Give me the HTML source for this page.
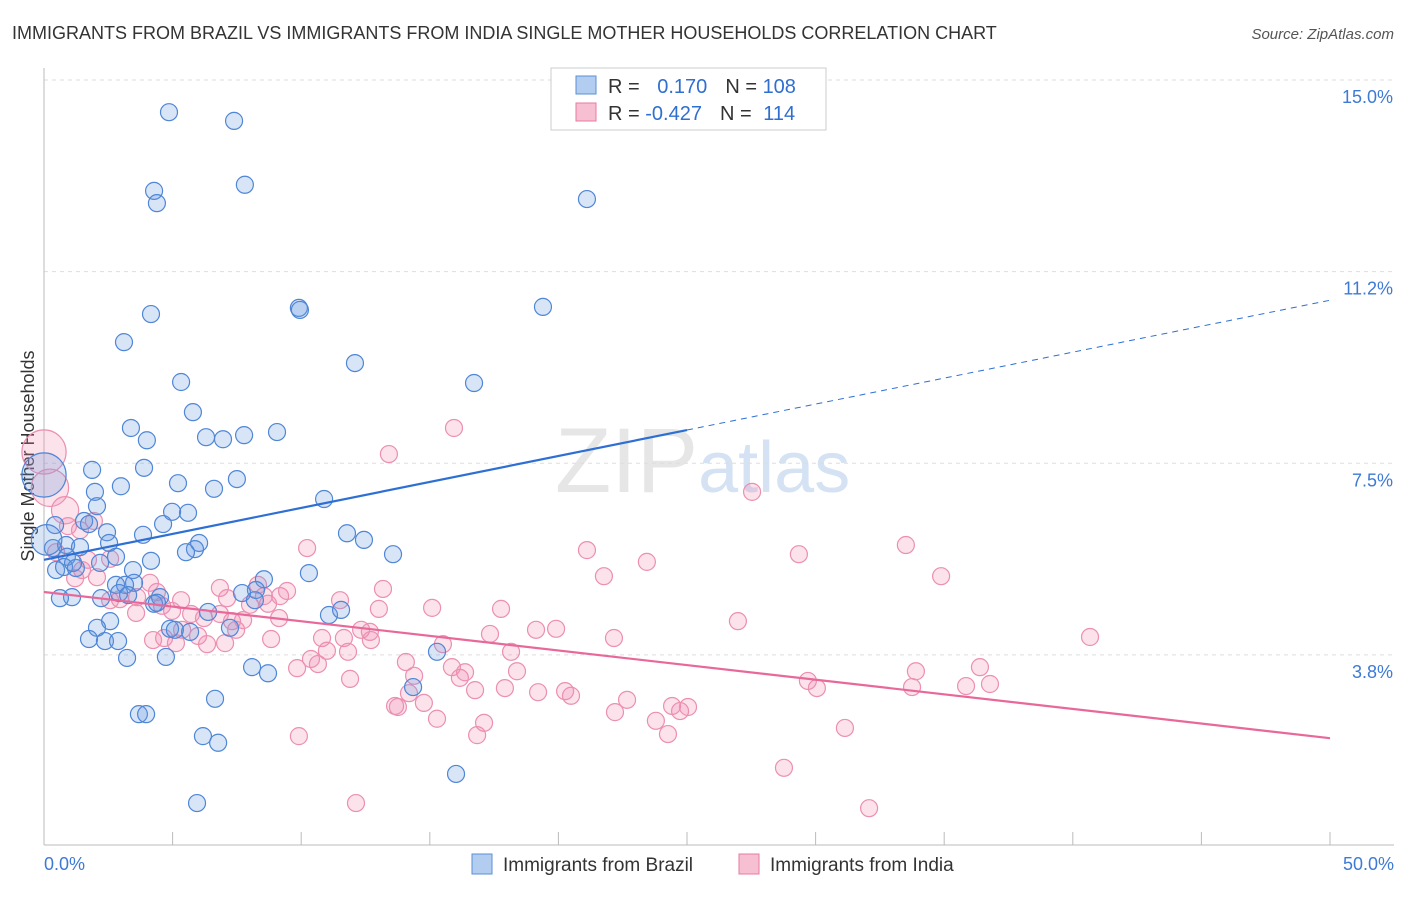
<!DOCTYPE html>
<html><head><meta charset="utf-8">
<style>
body{margin:0;background:#fff;font-family:"Liberation Sans",sans-serif;}
svg text{font-family:"Liberation Sans",sans-serif;}
</style></head>
<body>
<svg id="chart" width="1406" height="892" xmlns="http://www.w3.org/2000/svg">
<text x="12" y="39" font-size="18" fill="#333">IMMIGRANTS FROM BRAZIL VS IMMIGRANTS FROM INDIA SINGLE MOTHER HOUSEHOLDS CORRELATION CHART</text>
<text x="1394" y="39" font-size="15" fill="#555" text-anchor="end" font-style="italic">Source: ZipAtlas.com</text>
<text x="555" y="492" font-size="92" fill="#e6e6e6" font-family="Liberation Serif">ZIP<tspan fill="#d4e2f4" font-family="Liberation Sans" font-size="72">atlas</tspan></text>
<text transform="translate(34,456) rotate(-90)" font-size="18" fill="#333" text-anchor="middle">Single Mother Households</text>
<g id="grid"></g><g id="axes"></g><g id="pts"></g><g id="trends"></g>
<g>
<rect x="551" y="68" width="275" height="62" fill="#fff" stroke="#ccc"/>
<rect x="576" y="76" width="20" height="18" fill="#b3cdf0" stroke="#5b8fd6"/>
<rect x="576" y="103" width="20" height="18" fill="#f7c0d2" stroke="#e87aa0"/>
<text x="608" y="93" font-size="20" fill="#333">R = <tspan fill="#2f6fd0" dx="12">0.170</tspan><tspan dx="18">N = </tspan><tspan fill="#2f6fd0">108</tspan></text>
<text x="608" y="120" font-size="20" fill="#333">R = <tspan fill="#2f6fd0">-0.427</tspan><tspan dx="18">N = </tspan><tspan fill="#2f6fd0" dx="6">114</tspan></text>
</g>
<g>
<rect x="472" y="854" width="20" height="20" fill="#b3cdf0" stroke="#5b8fd6"/>
<text x="503" y="871" font-size="19" fill="#333">Immigrants from Brazil</text>
<rect x="739" y="854" width="20" height="20" fill="#f7c0d2" stroke="#e87aa0"/>
<text x="770" y="871" font-size="19" fill="#333">Immigrants from India</text>
</g>
</svg>
<script>
const yTicks=[3.75,7.5,11.25,15];
const yTickLabels=["3.8%","7.5%","11.2%","15.0%"];
const xTicks=[0,5,10,15,20,25,30,35,40,45,50];
const xEndLabels=["0.0%","50.0%"];
const brazilX=[4.86,7.39,4.28,4.39,7.81,21.11,9.91,9.95,19.40,4.16,3.11,12.09,5.33,16.72,5.79,3.38,4.00,6.30,6.96,7.78,9.06,1.87,3.89,2.99,5.21,7.50,6.61,1.98,2.06,4.98,5.60,10.89,1.56,1.75,4.63,2.45,3.85,11.78,12.44,0.43,0.35,0.86,1.40,2.53,6.03,5.87,5.52,13.57,0.89,2.18,2.80,4.16,0.47,0.78,1.24,1.13,10.30,3.46,3.50,2.80,3.15,1.09,2.22,0.62,2.92,3.27,4.28,4.51,4.39,6.38,8.55,8.24,7.70,8.20,11.08,11.55,2.57,2.06,4.90,5.09,5.68,7.23,1.75,2.37,2.88,3.23,4.74,15.28,8.09,8.71,14.35,6.65,3.69,3.97,6.18,6.77,16.02,5.95,0,0.1];
const brazilY=[14.37,14.20,12.83,12.59,12.95,12.67,10.54,10.50,10.56,10.42,9.87,9.46,9.09,9.07,8.50,8.19,7.95,8.01,7.97,8.05,8.11,7.37,7.41,7.05,7.11,7.19,7.00,6.94,6.66,6.55,6.53,6.80,6.37,6.31,6.31,6.15,6.10,6.13,6.00,6.29,5.84,5.90,5.86,5.94,5.94,5.82,5.76,5.72,5.67,5.55,5.67,5.59,5.41,5.47,5.45,5.55,5.35,5.41,5.16,5.12,5.12,4.88,4.86,4.86,4.96,4.92,4.75,4.88,4.77,4.59,5.23,5.02,4.96,4.82,4.53,4.63,4.41,4.28,4.26,4.24,4.20,4.28,4.06,4.02,4.02,3.69,3.71,3.81,3.51,3.39,3.12,2.89,2.59,2.59,2.16,2.03,1.42,0.85,7.27,6.0];
const brazilSize=[1,1,1,1,1,1,1,1,1,1,1,1,1,1,1,1,1,1,1,1,1,1,1,1,1,1,1,1,1,1,1,1,1,1,1,1,1,1,1,1,1,1,1,1,1,1,1,1,1,1,1,1,1,1,1,1,1,1,1,1,1,1,1,1,1,1,1,1,1,1,1,1,1,1,1,1,1,1,1,1,1,1,1,1,1,1,1,1,1,1,1,1,1,1,1,1,1,1,2.6,1.8];
const indiaX=[0,0.23,0.82,0.93,1.94,1.40,2.57,0.47,1.71,2.06,1.21,1.48,2.57,2.95,3.62,4.12,4.39,3.58,4.59,4.24,4.67,4.98,5.33,5.37,5.13,5.72,6.22,5.99,6.34,6.84,7.12,7.31,7.47,6.84,7.74,7.04,8.01,8.32,8.55,8.71,9.18,9.45,9.14,8.83,10.23,9.84,9.91,10.38,10.65,10.81,11.00,11.51,11.66,11.82,11.90,12.13,12.33,12.67,13.02,13.18,12.71,13.41,13.65,13.76,14.07,14.19,14.39,14.77,15.09,15.28,15.51,15.94,15.86,16.17,16.37,16.76,16.84,17.11,17.34,17.77,17.92,18.16,18.39,19.13,19.21,19.91,20.26,20.49,21.11,21.77,22.20,22.16,22.67,23.44,23.79,24.26,24.42,24.73,25.04,26.98,27.53,28.77,29.35,29.70,30.05,31.14,32.08,33.51,33.75,33.90,34.88,35.85,36.39,36.78,40.67];
const indiaY=[7.72,7.02,6.58,6.27,6.37,6.19,5.63,5.76,5.61,5.27,5.25,5.41,4.82,4.84,4.88,5.16,4.98,4.57,4.71,4.04,4.08,4.61,4.82,4.24,3.98,4.55,4.47,4.12,3.96,5.06,4.86,4.41,4.24,4.55,4.43,3.98,4.73,5.12,4.90,4.75,4.90,5.00,4.47,4.06,5.84,3.49,2.16,3.67,3.57,4.08,3.83,4.82,4.08,3.81,3.28,0.85,4.24,4.20,4.65,5.04,4.04,7.68,2.75,2.73,3.61,3.00,3.34,2.81,4.67,2.50,3.96,8.19,3.51,3.30,3.41,3.06,2.18,2.42,4.16,4.65,3.10,3.81,3.43,4.24,3.02,4.26,3.04,2.95,5.80,5.29,2.63,4.08,2.87,5.57,2.46,2.20,2.75,2.65,2.73,4.41,6.94,1.54,5.72,3.24,3.10,2.32,0.75,5.90,3.12,3.43,5.29,3.14,3.51,3.18,4.10];
const indiaSize=[2.6,2.2,1.6];
const brazilTrend=[5.61,10.69]; const brazilSolidEnd=25;
const indiaTrend=[4.98,2.12];
const NS="http://www.w3.org/2000/svg";
const X0=44,X1=1330,Y15=80,PX_PER=51.1;
function xs(v){return X0+(X1-X0)*v/50;}
function ys(v){return Y15+(15-v)*PX_PER;}
function mk(tag,attrs,parent){const e=document.createElementNS(NS,tag);for(const k in attrs)e.setAttribute(k,attrs[k]);document.getElementById(parent).appendChild(e);return e;}
yTicks.forEach((t,i)=>{
 const l=mk('line',{x1:X0,x2:1394,y1:ys(t),y2:ys(t),stroke:'#ddd','stroke-dasharray':'4,4'},'grid');
 
 
 const tx=mk('text',{x:1393,y:ys(t)+23,'font-size':18,fill:'#3d7ad6','text-anchor':'end'},'grid');
 tx.textContent=yTickLabels[i];
 
 
});
const ax=mk('line',{x1:X0,x2:X0,y1:68,y2:845,stroke:'#bbb'},'axes');


const bx=mk('line',{x1:X0,x2:1394,y1:845,y2:845,stroke:'#bbb'},'axes');


xTicks.forEach(t=>{
 const l=mk('line',{x1:xs(t),x2:xs(t),y1:832,y2:845,stroke:'#bbb'},'axes');
 
 
});
const xl0=mk('text',{x:44,y:870,'font-size':18,fill:'#3d7ad6'},'axes');xl0.textContent=xEndLabels[0];


const xl1=mk('text',{x:1394,y:870,'font-size':18,fill:'#3d7ad6','text-anchor':'end'},'axes');xl1.textContent=xEndLabels[1];


indiaX.forEach((v,i)=>{
 const c=mk('circle',{cx:xs(v),cy:ys(indiaY[i]),r:8.5*(indiaSize[i]||1),fill:'rgba(240,140,175,0.25)',stroke:'#ec8fb0','stroke-width':1.2},'pts');
 
 
});
brazilX.forEach((v,i)=>{
 const c=mk('circle',{cx:xs(v),cy:ys(brazilY[i]),r:8.5*(brazilSize[i]||1),fill:'rgba(100,150,225,0.25)',stroke:'#4f86d6','stroke-width':1.2},'pts');
 
 
});
const bAt=v=>brazilTrend[0]+(brazilTrend[1]-brazilTrend[0])*v/50;
const t1=mk('line',{x1:xs(0),y1:ys(bAt(0)),x2:xs(brazilSolidEnd),y2:ys(bAt(brazilSolidEnd)),stroke:'#2d6fd3','stroke-width':2.2},'trends');


const t2=mk('line',{x1:xs(brazilSolidEnd),y1:ys(bAt(brazilSolidEnd)),x2:xs(50),y2:ys(bAt(50)),stroke:'#2d6fd3','stroke-width':1,'stroke-dasharray':'6,5'},'trends');


const t3=mk('line',{x1:xs(0),y1:ys(indiaTrend[0]),x2:xs(50),y2:ys(indiaTrend[1]),stroke:'#e8689a','stroke-width':2.2},'trends');


</script>
</body></html>
